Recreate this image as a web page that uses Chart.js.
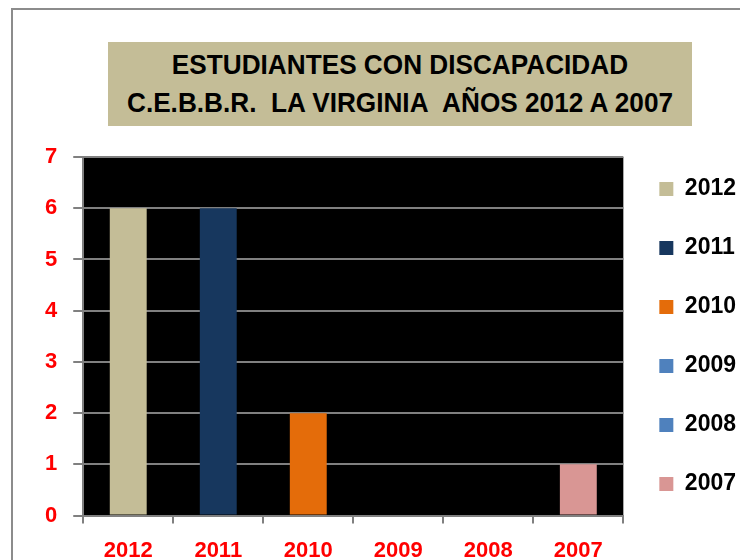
<!DOCTYPE html>
<html>
<head>
<meta charset="utf-8">
<script src="https://cdn.jsdelivr.net/npm/chart.js@4.4.0/dist/chart.umd.min.js"></script>
<style>
  body { margin: 0; background: #fff; }
  #wrap { position: relative; width: 740px; height: 560px; overflow: hidden; }
  #frame { position: absolute; left: 11px; top: 8px; width: 800px; height: 600px; border-left: 2px solid #8c8c8c; border-top: 2px solid #8c8c8c; }
  #title { position: absolute; left: 108px; top: 42px; width: 584px; height: 84px; background: #c4bd97;
    font: bold 28px "Liberation Sans", sans-serif; text-align: center; line-height: 38px; padding-top: 4px; box-sizing: border-box; color: #000; }
  #title span { display: inline-block; transform: scaleX(0.935); white-space: nowrap; }
  canvas { position: absolute; left: 0; top: 0; }
</style>
</head>
<body>
<div id="wrap">
  <div id="frame"></div>
  <div id="title"><span>ESTUDIANTES CON DISCAPACIDAD</span><br><span>C.E.B.B.R.&nbsp; LA VIRGINIA&nbsp; AÑOS 2012 A 2007</span></div>
  <canvas id="c" width="770" height="582"></canvas>
</div>
<script>
const years = ['2012', '2011', '2010', '2009', '2008', '2007'];
const students = [6, 6, 2, 0, 0, 1];
const barColors = ['#c4bd97', '#17375e', '#e46c0a', '#4f81bd', '#4f81bd', '#d99694'];
const yTicks = [0, 1, 2, 3, 4, 5, 6, 7];

const fontFamily = '"Liberation Sans", sans-serif';

// black plot area like the original
const plotBg = {
  id: 'plotBg',
  beforeDraw(chart) {
    const { ctx, chartArea: a } = chart;
    ctx.save();
    ctx.fillStyle = '#000';
    ctx.fillRect(a.left, a.top, a.right - a.left, a.bottom - a.top);
    ctx.restore();
  }
};

const ctx = document.getElementById('c').getContext('2d');
new Chart(ctx, {
  type: 'bar',
  data: {
    labels: years,
    datasets: [{
      data: students,
      backgroundColor: barColors,
      categoryPercentage: 1,
      barPercentage: 0.41
    }]
  },
  options: {
    responsive: false,
    animation: false,
    layout: { padding: { left: 29, top: 95, right: 24, bottom: 4 } },
    plugins: {
      tooltip: { enabled: false },
      // empty spacer above the plot only (the real title is the html box)
      title: { display: true, text: '', fullSize: false, font: { size: 12, lineHeight: 1 }, padding: { top: 0, bottom: 50 } },
      legend: {
        position: 'right',
        labels: {
          color: '#000',
          font: { family: fontFamily, size: 23, weight: 'bold' },
          boxWidth: 14,
          boxHeight: 14,
          padding: 36,
          generateLabels() {
            return years.map((y, i) => ({
              text: y,
              fillStyle: barColors[i],
              strokeStyle: barColors[i],
              lineWidth: 0,
              index: i
            }));
          }
        }
      }
    },
    scales: {
      x: {
        grid: { display: true, drawOnChartArea: false, color: '#808080', lineWidth: 2, tickLength: 8, offset: true },
        border: { color: '#808080', width: 2 },
        ticks: { color: '#ff0000', padding: 14, font: { family: fontFamily, size: 22, weight: 'bold' } }
      },
      y: {
        min: 0, max: 7,
        afterBuildTicks(axis) { axis.ticks = yTicks.map(v => ({ value: v })); },
        grid: { color: '#808080', lineWidth: 2, tickLength: 10 },
        border: { color: '#808080', width: 2 },
        ticks: { color: '#ff0000', padding: 16, font: { family: fontFamily, size: 22, weight: 'bold' } }
      }
    }
  },
  plugins: [plotBg]
});
</script>
</body>
</html>
